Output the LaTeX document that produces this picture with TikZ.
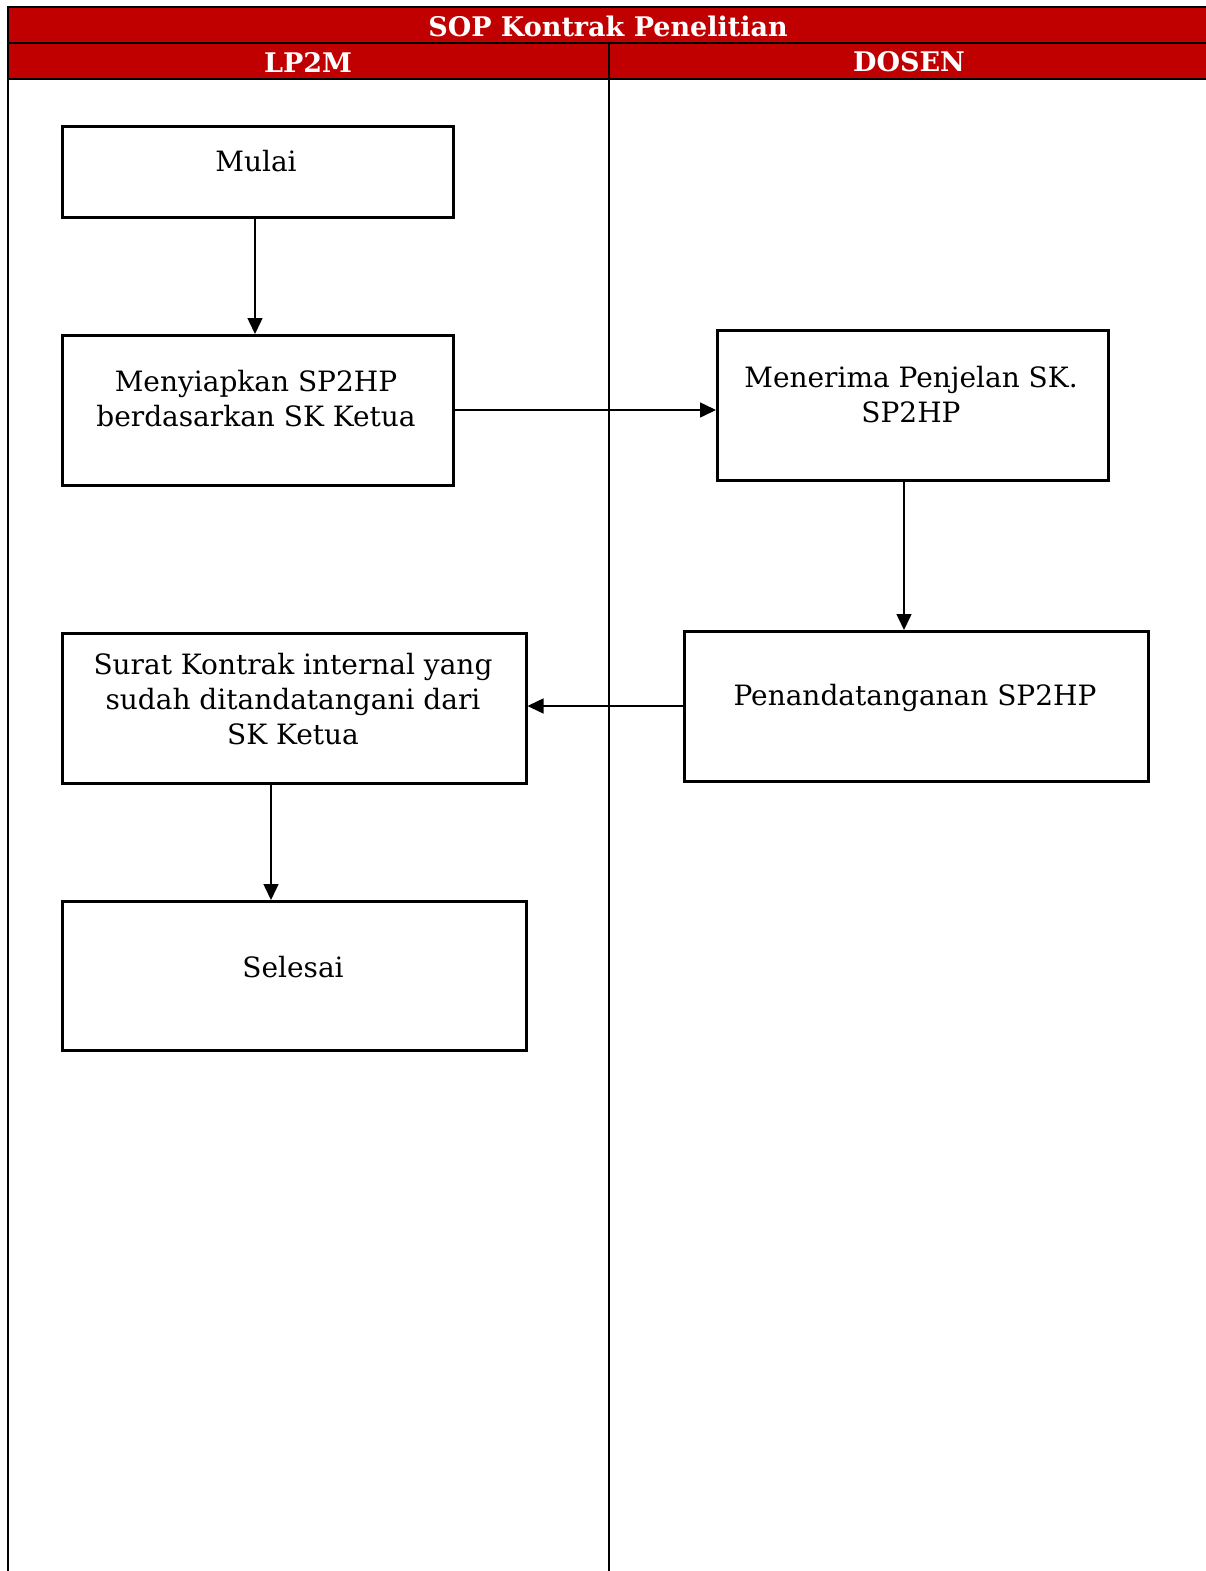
\documentclass[tikz,border=0pt]{standalone}
\usepackage{fontspec}
\setmainfont{DejaVu Serif}
\usetikzlibrary{arrows.meta}
\definecolor{hdr}{HTML}{C00000}
\tikzset{
  box/.style={draw, line width=2.5pt, minimum width=#1, inner sep=0pt, anchor=north west},
  txt/.style={font=\fontsize{28}{35}\selectfont, align=center, anchor=north, inner sep=0pt},
  hdrtxt/.style={font=\bfseries\fontsize{27}{30}\selectfont, text=white, inner sep=0pt},
  flow/.style={line width=1.5pt, -{Triangle[length=16pt,width=15pt]}}
}
\begin{document}
\begin{tikzpicture}[x=1pt,y=-1pt]
\useasboundingbox (0,0) rectangle (1206,1571);
% header
\fill[hdr] (8,7) rectangle (1206,79);
\draw[line width=2.5pt] (1206,7) -- (8,7) -- (8,1571);
\draw[line width=2.5pt] (8,43) -- (1206,43);
\draw[line width=2.5pt] (8,79) -- (1206,79);
\draw[line width=2.5pt] (609,43) -- (609,1571);
\node[hdrtxt] (title) at (608,26) {SOP Kontrak Penelitian};
\node[hdrtxt] (lp) at (308,62) {LP2M};
\node[hdrtxt] (ds) at (909,62) {DOSEN};
% boxes
\node[box=391pt, minimum height=91pt] (mulai) at (61,125) {};
\node[box=391pt, minimum height=150pt] (siap) at (61,334) {};
\node[box=391pt, minimum height=150pt] (terima) at (716,329) {};
\node[box=464pt, minimum height=150pt] (tanda) at (683,630) {};
\node[box=464pt, minimum height=150pt] (surat) at (61,632) {};
\node[box=464pt, minimum height=149pt] (selesai) at (61,900) {};
% texts
\node[txt] (tmulai) at (256,150) {Mulai};
\node[txt] (tsiap) at (256,370) {Menyiapkan SP2HP\\berdasarkan SK Ketua};
\node[txt] (tterima) at (911,366) {Menerima Penjelan SK.\\SP2HP};
\node[txt] (ttanda) at (915,684) {Penandatanganan SP2HP};
\node[txt] (tsurat) at (293,653) {Surat Kontrak internal yang\\sudah ditandatangani dari\\SK Ketua};
\node[txt] (tselesai) at (293,956) {Selesai};
% arrows
\draw[flow] (mulai.south -| 255,0) -- (siap.north -| 255,0);
\draw[flow] (siap.east |- 0,410) -- (terima.west |- 0,410);
\draw[flow] (terima.south -| 904,0) -- (tanda.north -| 904,0);
\draw[flow] (tanda.west |- 0,706) -- (surat.east |- 0,706);
\draw[flow] (surat.south -| 271,0) -- (selesai.north -| 271,0);
\end{tikzpicture}
\end{document}
